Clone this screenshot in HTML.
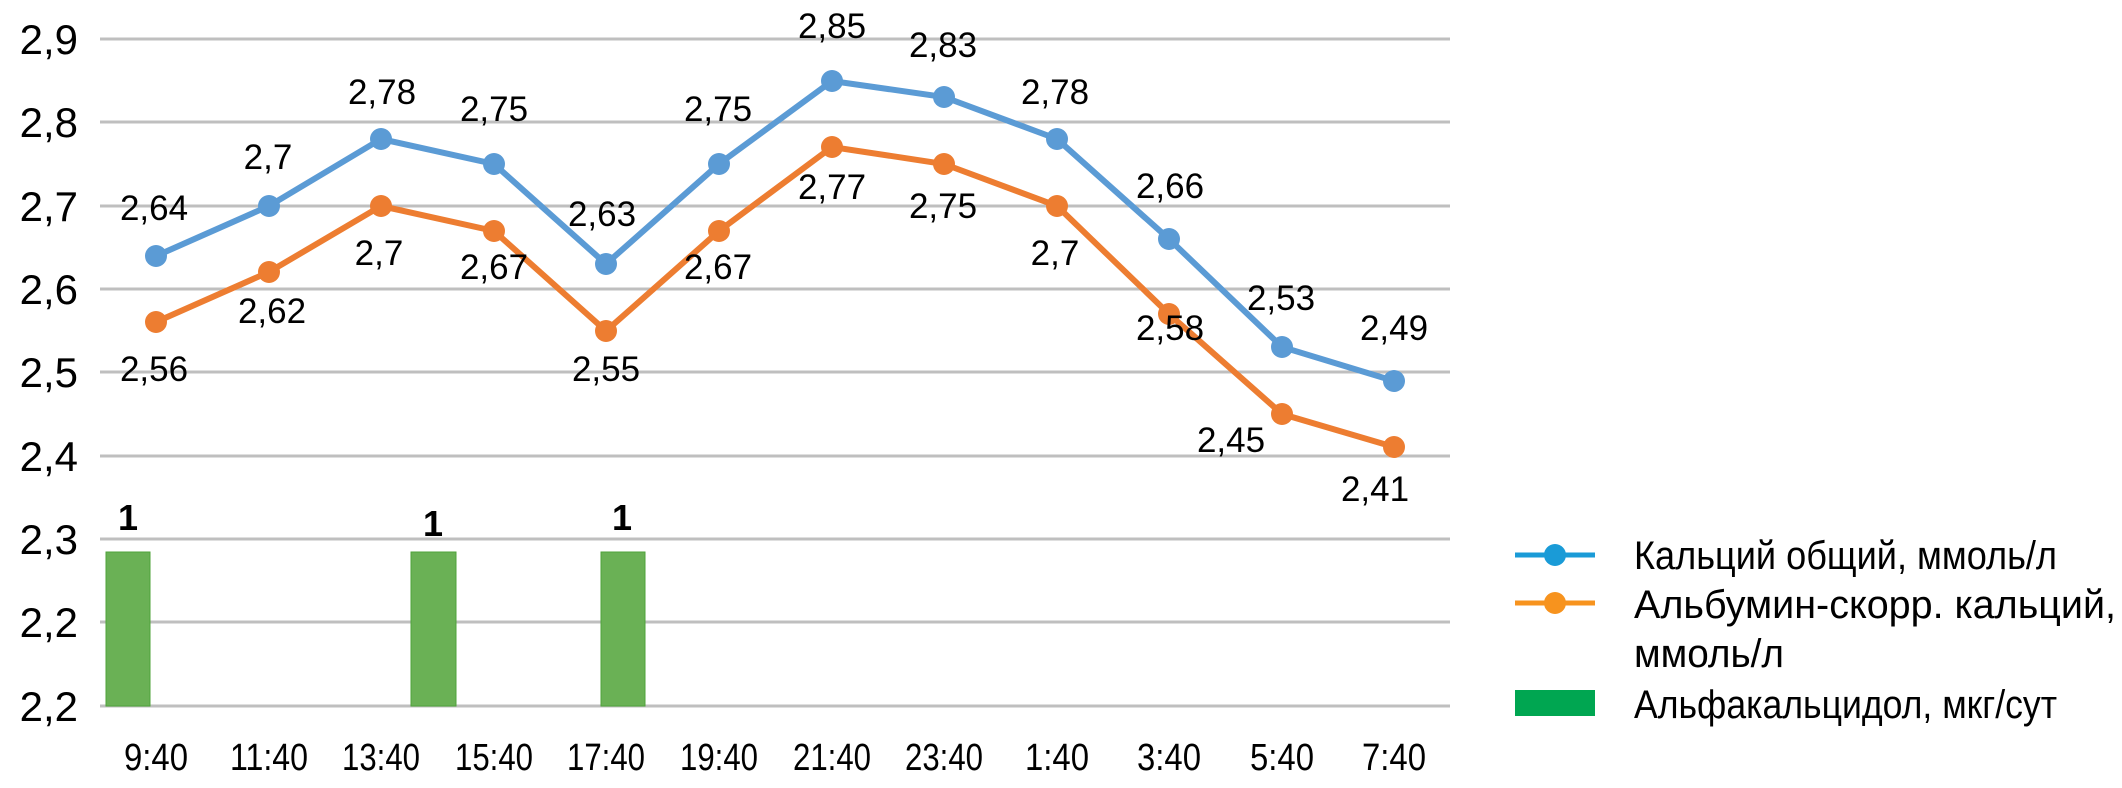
<!DOCTYPE html>
<html><head><meta charset="utf-8"><style>html,body{margin:0;padding:0;background:#fff}svg{display:block}</style></head>
<body>
<svg width="2122" height="788" xmlns="http://www.w3.org/2000/svg" font-family="Liberation Sans, sans-serif">
<g stroke="#bfbfbf" stroke-width="3">
<line x1="100" x2="1450" y1="39" y2="39"/>
<line x1="100" x2="1450" y1="122" y2="122"/>
<line x1="100" x2="1450" y1="206" y2="206"/>
<line x1="100" x2="1450" y1="289" y2="289"/>
<line x1="100" x2="1450" y1="372" y2="372"/>
<line x1="100" x2="1450" y1="456" y2="456"/>
<line x1="100" x2="1450" y1="539" y2="539"/>
<line x1="100" x2="1450" y1="622" y2="622"/>
<line x1="100" x2="1450" y1="706" y2="706"/>
</g>
<g font-size="42" text-anchor="end" fill="#000">
<text x="78" y="54">2,9</text><text x="78" y="137">2,8</text><text x="78" y="221">2,7</text>
<text x="78" y="304">2,6</text><text x="78" y="387">2,5</text><text x="78" y="471">2,4</text>
<text x="78" y="554">2,3</text><text x="78" y="637">2,2</text><text x="78" y="721">2,2</text>
</g>
<g fill="#6ab155" stroke="#4fa33a" stroke-width="1">
<rect x="106" y="552" width="44" height="154"/>
<rect x="411" y="552" width="45" height="154"/>
<rect x="601" y="552" width="44" height="154"/>
</g>
<g font-size="36" font-weight="bold" text-anchor="middle">
<text x="128" y="530">1</text><text x="433" y="536">1</text><text x="622" y="530">1</text>
</g>
<g font-size="38" text-anchor="middle">
<text x="156" y="770" textLength="64" lengthAdjust="spacingAndGlyphs">9:40</text><text x="269" y="770" textLength="78" lengthAdjust="spacingAndGlyphs">11:40</text>
<text x="381" y="770" textLength="78" lengthAdjust="spacingAndGlyphs">13:40</text><text x="494" y="770" textLength="78" lengthAdjust="spacingAndGlyphs">15:40</text>
<text x="606" y="770" textLength="78" lengthAdjust="spacingAndGlyphs">17:40</text><text x="719" y="770" textLength="78" lengthAdjust="spacingAndGlyphs">19:40</text>
<text x="832" y="770" textLength="78" lengthAdjust="spacingAndGlyphs">21:40</text><text x="944" y="770" textLength="78" lengthAdjust="spacingAndGlyphs">23:40</text>
<text x="1057" y="770" textLength="64" lengthAdjust="spacingAndGlyphs">1:40</text><text x="1169" y="770" textLength="64" lengthAdjust="spacingAndGlyphs">3:40</text>
<text x="1282" y="770" textLength="64" lengthAdjust="spacingAndGlyphs">5:40</text><text x="1394" y="770" textLength="64" lengthAdjust="spacingAndGlyphs">7:40</text>
</g>
<polyline fill="none" stroke="#ed7d31" stroke-width="6" points="156,322 269,272 381,206 494,231 606,331 719,231 832,147 944,164 1057,206 1169,314 1282,414 1394,447"/>
<polyline fill="none" stroke="#5b9bd5" stroke-width="6" points="156,256 269,206 381,139 494,164 606,264 719,164 832,81 944,97 1057,139 1169,239 1282,347 1394,381"/>
<g fill="#ed7d31">
<circle cx="156" cy="322" r="11"/><circle cx="269" cy="272" r="11"/><circle cx="381" cy="206" r="11"/><circle cx="494" cy="231" r="11"/><circle cx="606" cy="331" r="11"/><circle cx="719" cy="231" r="11"/><circle cx="832" cy="147" r="11"/><circle cx="944" cy="164" r="11"/><circle cx="1057" cy="206" r="11"/><circle cx="1169" cy="314" r="11"/><circle cx="1282" cy="414" r="11"/><circle cx="1394" cy="447" r="11"/>
</g>
<g fill="#5b9bd5">
<circle cx="156" cy="256" r="11"/><circle cx="269" cy="206" r="11"/><circle cx="381" cy="139" r="11"/><circle cx="494" cy="164" r="11"/><circle cx="606" cy="264" r="11"/><circle cx="719" cy="164" r="11"/><circle cx="832" cy="81" r="11"/><circle cx="944" cy="97" r="11"/><circle cx="1057" cy="139" r="11"/><circle cx="1169" cy="239" r="11"/><circle cx="1282" cy="347" r="11"/><circle cx="1394" cy="381" r="11"/>
</g>
<g font-size="35" text-anchor="middle" fill="#000">
<text x="154" y="220">2,64</text><text x="268" y="169">2,7</text><text x="382" y="104">2,78</text><text x="494" y="121">2,75</text>
<text x="602" y="226">2,63</text><text x="718" y="121">2,75</text><text x="832" y="38">2,85</text><text x="943" y="57">2,83</text>
<text x="1055" y="104">2,78</text><text x="1170" y="198">2,66</text><text x="1281" y="310">2,53</text><text x="1394" y="340">2,49</text>
<text x="154" y="381">2,56</text><text x="272" y="323">2,62</text><text x="379" y="265">2,7</text><text x="494" y="279">2,67</text>
<text x="606" y="381">2,55</text><text x="718" y="279">2,67</text><text x="832" y="199">2,77</text><text x="943" y="218">2,75</text>
<text x="1055" y="265">2,7</text><text x="1170" y="340">2,58</text><text x="1231" y="452">2,45</text><text x="1375" y="501">2,41</text>
</g>
<line x1="1515" x2="1595" y1="555" y2="555" stroke="#1a9bd7" stroke-width="5"/>
<circle cx="1555" cy="555" r="11" fill="#1a9bd7"/>
<line x1="1515" x2="1595" y1="603" y2="603" stroke="#f7931e" stroke-width="5"/>
<circle cx="1555" cy="603" r="11" fill="#f7931e"/>
<rect x="1515" y="690" width="80" height="26" fill="#00a651"/>
<g font-size="40" fill="#000">
<text x="1634" y="569" textLength="423" lengthAdjust="spacingAndGlyphs">Кальций общий, ммоль/л</text>
<text x="1634" y="618" textLength="482" lengthAdjust="spacingAndGlyphs">Альбумин-скорр. кальций,</text>
<text x="1634" y="667" textLength="150" lengthAdjust="spacingAndGlyphs">ммоль/л</text>
<text x="1634" y="718" textLength="423" lengthAdjust="spacingAndGlyphs">Альфакальцидол, мкг/сут</text>
</g>
</svg>
</body></html>
